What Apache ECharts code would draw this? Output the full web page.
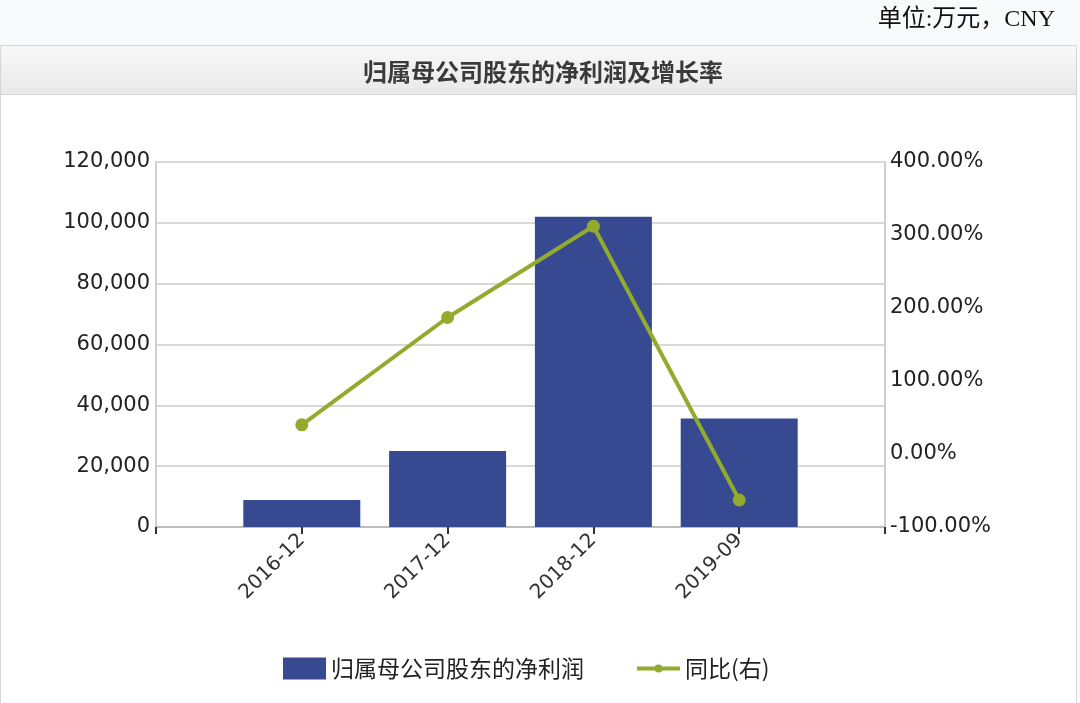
<!DOCTYPE html>
<html lang="zh">
<head>
  <meta charset="UTF-8">
  <title>归属母公司股东的净利润及增长率</title>
  <script type="text/javascript" src="https://cdn.jsdelivr.net/npm/echarts@6/dist/echarts.min.js"></script>
  <style>
    html, body { margin: 0; padding: 0; background: #f9fafc; }
    #main { width: 1080px; height: 703px; }
  </style>
</head>
<body>
  <div id="main"></div>
  <script type="text/javascript">
    // 空的首尾类目用来留出两侧空位
    var categories = ['', '2016-12', '2017-12', '2018-12', '2019-09', ''];
    var netProfit = [null, 8900, 25000, 102000, 35700, null];
    var yoyRate = [null, 40, 187, 312, -63, null];
    var leftTicks = [0, 20000, 40000, 60000, 80000, 100000, 120000];
    var rightTicks = [-100, 0, 100, 200, 300, 400];

    var axisFont = 'DejaVu Sans, Verdana, sans-serif';
    var cjkFont = 'Noto Sans CJK SC, sans-serif';
    var legendText = {
      fontFamily: cjkFont,
      fontSize: 23,
      color: '#222'
    };

    var myChart = echarts.init(document.getElementById('main'), null, {
      width: 1080,
      height: 703
    });

    var option = {
      backgroundColor: '#f9fafc',
      animation: false,
      graphic: [
        {
          // 外框
          type: 'rect',
          shape: { x: 0.5, y: 45.5, width: 1076, height: 700 },
          style: { fill: '#fff', stroke: '#d6d6d6', lineWidth: 1 },
          z: -10
        },
        {
          // 标题栏
          type: 'rect',
          shape: { x: 1, y: 46, width: 1075, height: 48 },
          style: {
            fill: new echarts.graphic.LinearGradient(0, 0, 0, 1, [
              { offset: 0, color: '#f8f8f8' },
              { offset: 1, color: '#e9e9e9' }
            ]),
            stroke: null
          },
          z: -9
        },
        {
          type: 'line',
          shape: { x1: 1, y1: 94.5, x2: 1076, y2: 94.5 },
          style: { stroke: '#d6d6d6', lineWidth: 1 },
          z: -8
        }
      ],
      title: [
        {
          text: '单位:万元，CNY',
          right: 20,
          top: 3,
          textStyle: {
            fontFamily: 'Liberation Serif, Noto Sans CJK SC, serif',
            fontSize: 24,
            fontWeight: 'normal',
            color: '#111'
          }
        },
        {
          text: '归属母公司股东的净利润及增长率',
          left: 538,
          textAlign: 'center',
          top: 55,
          textStyle: {
            fontFamily: cjkFont,
            fontSize: 24,
            fontWeight: 'bold',
            color: '#3a3a3a'
          }
        }
      ],
      // 两个图例：柱子方块大，折线圆点小
      legend: [
        {
          left: 278,
          top: 652,
          icon: 'rect',
          itemWidth: 43,
          itemHeight: 22,
          textStyle: legendText,
          data: ['归属母公司股东的净利润']
        },
        {
          left: 630,
          top: 652,
          itemWidth: 43,
          itemHeight: 10,
          lineStyle: { width: 4 },
          textStyle: legendText,
          data: ['同比(右)']
        }
      ],
      grid: {
        left: 156,
        right: 195,
        top: 162,
        bottom: 176,
        containLabel: false
      },
      xAxis: {
        type: 'category',
        data: categories,
        boundaryGap: false,
        axisLine: { lineStyle: { color: '#bdbdbd', width: 2 } },
        axisTick: {
          show: true,
          interval: 0,
          length: 7,
          lineStyle: { color: '#333', width: 2 }
        },
        axisLabel: {
          interval: 0,
          rotate: 45,
          margin: 10,
          fontFamily: axisFont,
          fontSize: 20,
          color: '#333'
        },
        splitLine: { show: false }
      },
      yAxis: [
        {
          type: 'value',
          min: leftTicks[0],
          max: leftTicks[leftTicks.length - 1],
          interval: leftTicks[1] - leftTicks[0],
          axisLine: { show: true, lineStyle: { color: '#cfcfcf', width: 2 } },
          axisTick: { show: false },
          axisLabel: {
            margin: 6,
            fontFamily: axisFont,
            fontSize: 21,
            color: '#222',
            formatter: function (v) { return echarts.format.addCommas(v); }
          },
          splitLine: { show: true, lineStyle: { color: '#d9d9d9', width: 2 } }
        },
        {
          type: 'value',
          min: rightTicks[0],
          max: rightTicks[rightTicks.length - 1],
          interval: rightTicks[1] - rightTicks[0],
          alignTicks: false,
          axisLine: { show: true, lineStyle: { color: '#cfcfcf', width: 2 } },
          axisTick: { show: false },
          axisLabel: {
            margin: 5,
            fontFamily: axisFont,
            fontSize: 21,
            color: '#222',
            formatter: function (v) { return v.toFixed(2) + '%'; }
          },
          splitLine: { show: false }
        }
      ],
      series: [
        {
          name: '归属母公司股东的净利润',
          type: 'bar',
          data: netProfit,
          barWidth: 117,
          itemStyle: { color: '#374a91' }
        },
        {
          name: '同比(右)',
          type: 'line',
          yAxisIndex: 1,
          data: yoyRate,
          symbol: 'circle',
          symbolSize: 13,
          lineStyle: { color: '#93ab2c', width: 4 },
          itemStyle: { color: '#93ab2c' },
          z: 5
        }
      ]
    };

    myChart.setOption(option);
  </script>
</body>
</html>
